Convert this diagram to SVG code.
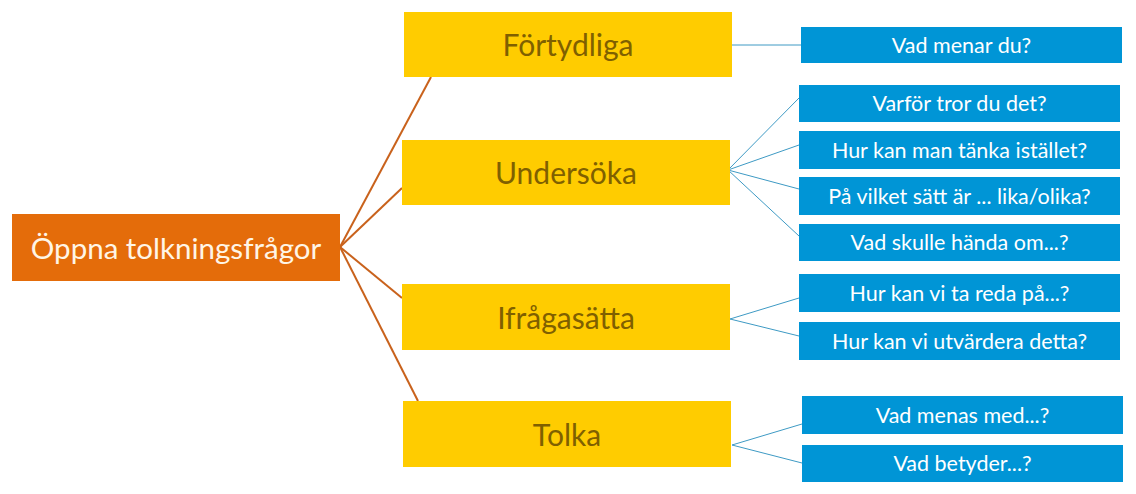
<svg xmlns="http://www.w3.org/2000/svg" width="1136" height="494" viewBox="0 0 1136 494">
<style>
.root{fill:#E46C0A}
.mid{fill:#FFCC00}
.leaf{fill:#0095D6}
.t{font-family:Lato,"Open Sans","Liberation Sans",sans-serif;text-anchor:middle;dominant-baseline:central}
.rt{fill:#FFF5E6;font-size:29.5px}
.mt{fill:#7F6000;font-size:30px}
.lt{fill:#FFFFFF;font-size:21.5px}
.oc{stroke:#C9621C;stroke-width:2;fill:none}
.bc{stroke:#3E9AC4;stroke-width:1;fill:none}
</style>
<rect width="1136" height="494" fill="#FFFFFF"/>
<g id="connectors">
<line class="oc" x1="340" y1="247" x2="431" y2="77"/>
<line class="oc" x1="340" y1="247" x2="402" y2="188"/>
<line class="oc" x1="340" y1="247" x2="402" y2="298"/>
<line class="oc" x1="340" y1="247" x2="418" y2="401"/>
<line class="bc" x1="732" y1="45" x2="801" y2="45"/>
<line class="bc" x1="728" y1="170" x2="799" y2="98"/>
<line class="bc" x1="728" y1="170" x2="799" y2="145"/>
<line class="bc" x1="728" y1="170" x2="799" y2="189"/>
<line class="bc" x1="728" y1="170" x2="799" y2="236"/>
<line class="bc" x1="730" y1="319" x2="799" y2="298"/>
<line class="bc" x1="730" y1="319" x2="799" y2="336"/>
<line class="bc" x1="732" y1="445" x2="802" y2="424"/>
<line class="bc" x1="732" y1="445" x2="802" y2="463"/>
</g>
<g id="root"><rect class="root" x="12" y="214" width="328" height="67"/><text class="t rt" x="176" y="247">Öppna tolkningsfrågor</text></g>
<g id="fortydliga"><rect class="mid" x="404" y="12" width="328" height="65"/><text class="t mt" x="568" y="44">Förtydliga</text></g>
<g id="undersoka"><rect class="mid" x="402" y="140" width="328" height="65"/><text class="t mt" x="566" y="172">Undersöka</text></g>
<g id="ifragasatta"><rect class="mid" x="402" y="284" width="328" height="66"/><text class="t mt" x="566" y="316.5">Ifrågasätta</text></g>
<g id="tolka"><rect class="mid" x="403" y="401" width="328" height="66"/><text class="t mt" x="567" y="433.5">Tolka</text></g>
<g id="q1"><rect class="leaf" x="801" y="27" width="321" height="36"/><text class="t lt" x="961.5" y="44.5">Vad menar du?</text></g>
<g id="q2"><rect class="leaf" x="799" y="85" width="321" height="37"/><text class="t lt" x="959.5" y="103">Varför tror du det?</text></g>
<g id="q3"><rect class="leaf" x="799" y="131" width="321" height="38"/><text class="t lt" x="959.5" y="149.5">Hur kan man tänka istället?</text></g>
<g id="q4"><rect class="leaf" x="799" y="177" width="321" height="38"/><text class="t lt" x="959.5" y="195.5">På vilket sätt är ... lika/olika?</text></g>
<g id="q5"><rect class="leaf" x="799" y="224" width="321" height="37"/><text class="t lt" x="959.5" y="242">Vad skulle hända om...?</text></g>
<g id="q6"><rect class="leaf" x="799" y="274" width="321" height="38"/><text class="t lt" x="959.5" y="292.5">Hur kan vi ta reda på...?</text></g>
<g id="q7"><rect class="leaf" x="799" y="322" width="321" height="38"/><text class="t lt" x="959.5" y="340.5">Hur kan vi utvärdera detta?</text></g>
<g id="q8"><rect class="leaf" x="802" y="396" width="321" height="38"/><text class="t lt" x="962.5" y="414.5">Vad menas med...?</text></g>
<g id="q9"><rect class="leaf" x="802" y="445" width="321" height="37"/><text class="t lt" x="962.5" y="463">Vad betyder...?</text></g>
</svg>
